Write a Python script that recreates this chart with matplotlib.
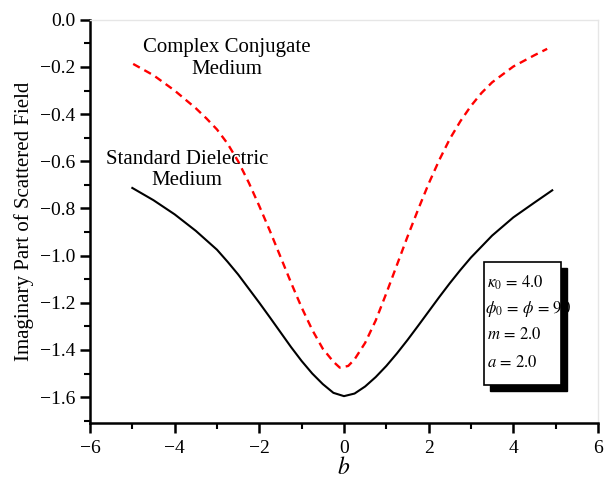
import matplotlib
matplotlib.use("Agg")
import matplotlib.pyplot as plt
from matplotlib.patches import Rectangle
from matplotlib.ticker import MultipleLocator, FuncFormatter

plt.rcParams['font.family'] = ['Liberation Serif', 'DejaVu Serif']
plt.rcParams['mathtext.fontset'] = 'stix'

# Standard dielectric medium (solid black)
b_std = [-5.0, -4.5, -4.0, -3.5, -3.0, -2.75, -2.5, -2.25, -2.0, -1.75, -1.5, -1.25, -1.0, -0.75, -0.5, -0.25,
         0.0, 0.25, 0.5, 0.75, 1.0, 1.25, 1.5, 1.75, 2.0, 2.25, 2.5, 2.75, 3.0, 3.5, 4.0, 4.5, 4.92]
y_std = [-0.713, -0.765, -0.825, -0.895, -0.975, -1.026, -1.08, -1.14, -1.20, -1.262, -1.325, -1.388, -1.447, -1.50, -1.545, -1.582,
         -1.596, -1.585, -1.555, -1.515, -1.468, -1.415, -1.358, -1.298, -1.237, -1.176, -1.117, -1.061, -1.008, -0.915, -0.838, -0.775, -0.723]

# Complex conjugate medium (dashed red)
b_cc = [-4.98, -4.5, -4.0, -3.5, -3.25, -3.0, -2.75, -2.5, -2.25, -2.0, -1.75, -1.5, -1.25, -1.0, -0.75, -0.5, -0.25,
        -0.1, 0.1, 0.25, 0.5, 0.75, 1.0, 1.25, 1.5, 1.75, 2.0, 2.25, 2.5, 2.75, 3.0, 3.25, 3.5, 4.0, 4.5, 4.8]
y_cc = [-0.187, -0.235, -0.30, -0.375, -0.418, -0.465, -0.525, -0.60, -0.69, -0.79, -0.895, -1.005, -1.115, -1.22, -1.315, -1.395, -1.45,
        -1.475, -1.468, -1.44, -1.37, -1.275, -1.16, -1.04, -0.92, -0.805, -0.695, -0.595, -0.505, -0.43, -0.365, -0.31, -0.265, -0.198, -0.15, -0.123]

params = [r'$\kappa_0\,=\,4.0$', r'$\phi_0\,=\,\phi\,=\,90$', r'$m\,=\,2.0$', r'$a\,=\,2.0$']

fig = plt.figure(figsize=(6.04, 4.84), dpi=100)
ax = fig.add_axes([0.149, 0.126, 0.841, 0.833])

ax.plot(b_std, y_std, color='black', lw=1.5, zorder=3, solid_joinstyle='round')
ax.plot(b_cc, y_cc, color='red', lw=1.7, dashes=(3.2, 2.2), zorder=3)

ax.set_xlim(-6, 6)
ax.set_ylim(-1.71, 0.0)
ax.xaxis.set_major_locator(MultipleLocator(2))
ax.xaxis.set_minor_locator(MultipleLocator(1))
ax.yaxis.set_major_locator(MultipleLocator(0.2))
ax.yaxis.set_minor_locator(MultipleLocator(0.1))
ax.yaxis.set_major_formatter(FuncFormatter(lambda v, p: ('%.1f' % v).replace('-', '\u2212') if abs(v) > 1e-9 else '0.0'))
ax.xaxis.set_major_formatter(FuncFormatter(lambda v, p: ('%d' % round(v)).replace('-', '\u2212')))

for s in ['left', 'bottom']:
    ax.spines[s].set_linewidth(1.8)
    ax.spines[s].set_color('black')
for s in ['top', 'right']:
    ax.spines[s].set_linewidth(1.0)
    ax.spines[s].set_color('#e6e6e6')

ax.tick_params(which='major', direction='out', length=7, width=1.8, labelsize=14, colors='black')
ax.tick_params(which='minor', direction='out', length=4, width=1.5)
ax.tick_params(axis='x', which='major', pad=5)
ax.tick_params(top=False, right=False, which='both')

ax.set_xlabel(r'$b$', fontsize=17, labelpad=0)
ax.set_ylabel('Imaginary Part of Scattered Field', fontsize=15, labelpad=4)

ax.text(-2.76, -0.163, 'Complex Conjugate\nMedium', ha='center', va='center', fontsize=15,
        linespacing=1.2, multialignment='center')
ax.text(-3.71, -0.637, 'Standard Dielectric\nMedium', ha='center', va='center', fontsize=15,
        linespacing=1.2, multialignment='center')

# parameter box with shadow
bx0, bx1, by0, by1 = 3.31, 5.13, -1.549, -1.027
dx, dy = 0.15, 0.027
ax.add_patch(Rectangle((bx0 + dx, by0 - dy), bx1 - bx0, by1 - by0, facecolor='black', edgecolor='black', zorder=4))
ax.add_patch(Rectangle((bx0, by0), bx1 - bx0, by1 - by0, facecolor='white', edgecolor='black', lw=1.2, zorder=5))
ys = [-1.116, -1.227, -1.337, -1.456]
xs = [bx0 + 0.08, bx0 + 0.03, bx0 + 0.08, bx0 + 0.08]
for txt, xx, yy in zip(params, xs, ys):
    ax.text(xx, yy, txt, ha='left', va='center', fontsize=12, zorder=6)

fig.savefig('out.png', dpi=100)
